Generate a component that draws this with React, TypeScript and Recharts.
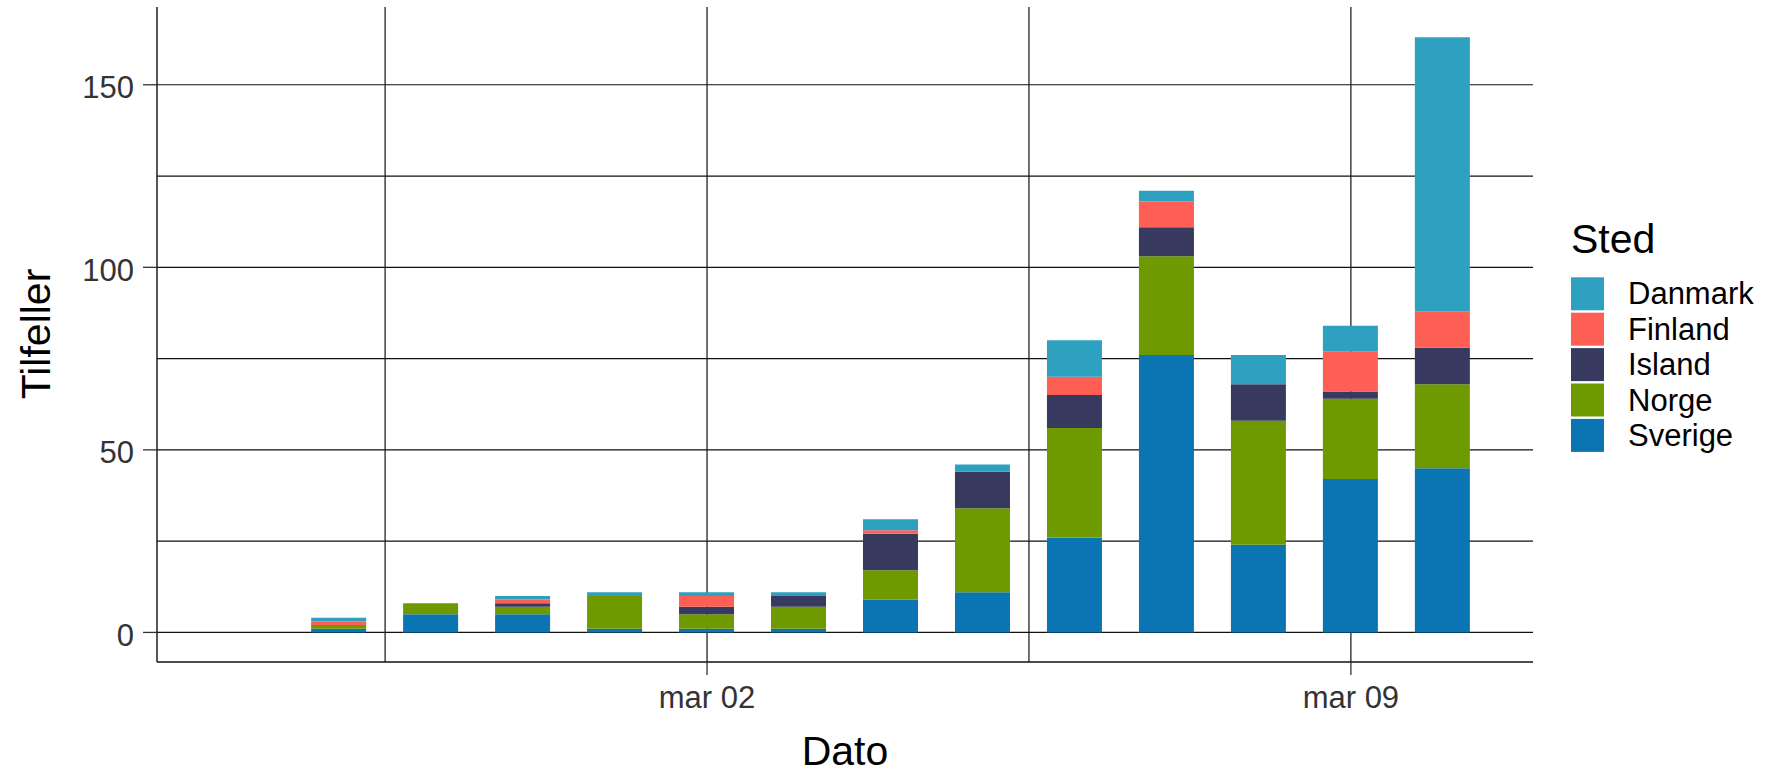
import { BarChart, Bar, XAxis, YAxis, CartesianGrid, Legend } from "recharts"

// days counted from 2020-02-27
const DAYS = [0, 1, 2, 3, 4, 5, 6, 7, 8, 9, 10, 11, 12]

const SVERIGE = [1, 5, 5, 1, 1, 1, 9, 11, 26, 76, 24, 42, 45]
const NORGE   = [1, 3, 2, 9, 4, 6, 8, 23, 30, 27, 34, 22, 23]
const ISLAND  = [0, 0, 1, 0, 2, 3, 10, 10, 9, 8, 10, 2, 10]
const FINLAND = [1, 0, 1, 0, 3, 0, 1, 0, 5, 7, 0, 11, 10]
const DANMARK = [1, 0, 1, 1, 1, 1, 3, 2, 10, 3, 8, 7, 75]

const X_TICKS = [0.5, 4, 7.5, 11]
const X_LABELS: Record<number, string> = { 4: "mar 02", 11: "mar 09" }
const Y_TICKS = [0, 25, 50, 75, 100, 125, 150]
const Y_LABELED = [0, 50, 100, 150]

const SERIES = [
  { key: "Sverige", color: "#0b74b3" },
  { key: "Norge",   color: "#6e9a00" },
  { key: "Island",  color: "#373a5e" },
  { key: "Finland", color: "#fd5f55" },
  { key: "Danmark", color: "#2da1bf" },
]

const data = DAYS.map((d, i) => ({
  day: d,
  Sverige: SVERIGE[i],
  Norge: NORGE[i],
  Island: ISLAND[i],
  Finland: FINLAND[i],
  Danmark: DANMARK[i],
}))

const FONT = "'Liberation Sans', Arial, sans-serif"
const PLOT_LEFT = 157
const PLOT_BOTTOM = 662

function YTick(props: any) {
  const { y, payload } = props
  if (!Y_LABELED.includes(payload.value)) return <g />
  return (
    <g>
      <line x1={PLOT_LEFT - 14} x2={PLOT_LEFT} y1={y} y2={y} stroke="#333" strokeWidth={1.3} />
      <text x={PLOT_LEFT - 23} y={y + 13.5} textAnchor="end" fontSize={31} fill="#333" fontFamily={FONT}>
        {payload.value}
      </text>
    </g>
  )
}

function XTick(props: any) {
  const { x, payload } = props
  const label = X_LABELS[payload.value]
  if (!label) return <g />
  return (
    <g>
      <line x1={x} x2={x} y1={PLOT_BOTTOM} y2={PLOT_BOTTOM + 13} stroke="#333" strokeWidth={1.3} />
      <text x={x} y={708} textAnchor="middle" fontSize={31} fill="#333" fontFamily={FONT}>
        {label}
      </text>
    </g>
  )
}

// legend lists the stack top-down, like ggplot
function renderLegend() {
  const items = [...SERIES].reverse()
  return (
    <svg width={205} height={260} style={{ display: "block" }}>
      <text x={11} y={53} fontSize={41} fill="#000" fontFamily={FONT}>Sted</text>
      {items.map((it, i) => {
        const top = 77.3 + i * 35.4
        return (
          <g key={it.key}>
            <rect x={11} y={top} width={33} height={33} fill={it.color} />
            <text x={68} y={top + 27} fontSize={31} fill="#000" fontFamily={FONT}>{it.key}</text>
          </g>
        )
      })}
    </svg>
  )
}

export default function App() {
  return (
    <div>
      <style>{"body{margin:0}"}</style>
      <BarChart
        width={1765}
        height={773}
        data={data}
        margin={{ top: 7, right: 232, bottom: 0, left: 0 }}
        style={{ fontFamily: FONT }}
      >
        <CartesianGrid stroke="#111" strokeWidth={1.2} syncWithTicks />
        <XAxis
          dataKey="day"
          type="number"
          domain={[-1.98, 12.98]}
          allowDataOverflow
          ticks={X_TICKS}
          interval={0}
          height={111}
          tickLine={false}
          axisLine={{ stroke: "#111", strokeWidth: 1.4 }}
          tick={<XTick />}
          label={() => (
            <text x={845} y={765} textAnchor="middle" fontSize={41} fill="#000" fontFamily={FONT}>Dato</text>
          )}
        />
        <YAxis
          type="number"
          domain={[-8.1, 171.3]}
          allowDataOverflow
          ticks={Y_TICKS}
          interval={0}
          width={157}
          tickLine={false}
          axisLine={{ stroke: "#111", strokeWidth: 1.4 }}
          tick={<YTick />}
          label={() => (
            <text x={50} y={334} transform="rotate(-90, 50, 334)" textAnchor="middle" fontSize={41} fill="#000" fontFamily={FONT}>
              Tilfeller
            </text>
          )}
        />
        <Legend
          layout="horizontal"
          verticalAlign="middle"
          align="center"
          wrapperStyle={{ position: "absolute", left: 1560, top: 200, width: 205, height: 260 }}
          content={renderLegend}
        />
        {SERIES.map((s) => (
          <Bar
            key={s.key}
            dataKey={s.key}
            name={s.key}
            stackId="a"
            fill={s.color}
            barSize={55}
            isAnimationActive={false}
          />
        ))}
      </BarChart>
    </div>
  )
}
